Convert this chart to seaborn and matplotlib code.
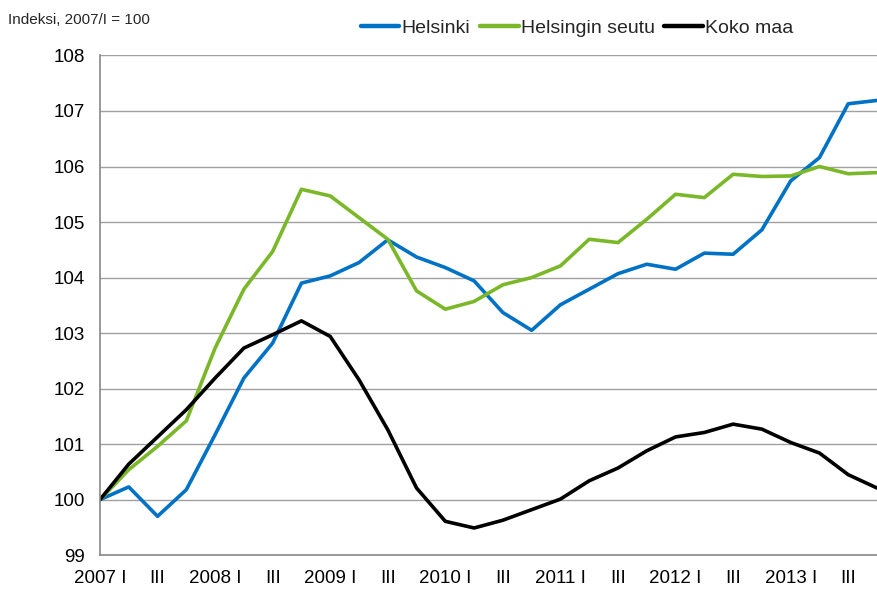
import numpy as np
import pandas as pd
import matplotlib
matplotlib.use("Agg")
import matplotlib.pyplot as plt
import seaborn as sns

# neljännekset 2007 I - 2013 IV
quarters = [f"{y} {q}" for y in range(2007, 2014) for q in ["I", "II", "III", "IV"]]
tick_labels = [f"{q.split()[0]} I" if q.endswith(" I") else ("III" if q.endswith(" III") else "")
               for q in quarters]

helsinki = [100.0, 100.23, 99.70, 100.18, 101.17, 102.19, 102.82, 103.90, 104.03, 104.27,
            104.68, 104.37, 104.18, 103.94, 103.37, 103.05, 103.51, 103.79, 104.07, 104.24,
            104.15, 104.44, 104.42, 104.86, 105.74, 106.16, 107.13, 107.19]
seutu = [100.0, 100.54, 100.96, 101.42, 102.73, 103.79, 104.47, 105.59, 105.47, 105.08,
         104.69, 103.76, 103.43, 103.57, 103.87, 104.00, 104.21, 104.69, 104.63, 105.05,
         105.50, 105.44, 105.86, 105.82, 105.83, 106.00, 105.87, 105.89]
koko_maa = [100.0, 100.64, 101.13, 101.62, 102.19, 102.73, 102.97, 103.22, 102.94, 102.16,
            101.26, 100.21, 99.61, 99.49, 99.63, 99.82, 100.01, 100.34, 100.57, 100.88,
            101.13, 101.21, 101.36, 101.27, 101.03, 100.84, 100.45, 100.21]

series = ["Helsinki", "Helsingin seutu", "Koko maa"]
colors = ["#0072C6", "#7AB829", "#000000"]

df = pd.concat([
    pd.DataFrame({"i": range(len(quarters)), "arvo": v, "alue": s})
    for s, v in zip(series, [helsinki, seutu, koko_maa])
])

sns.set_style("white")
plt.rcParams["font.family"] = ["Liberation Sans", "DejaVu Sans"]

fig = plt.figure(figsize=(8.77, 5.9), dpi=100)
ax = fig.add_axes([0.114, 0.059, 0.886, 0.847])

sns.lineplot(data=df, x="i", y="arvo", hue="alue", palette=colors, linewidth=2.6,
             ax=ax, legend=True)

ax.set_xlim(0, len(quarters) - 1)
ax.set_ylim(99, 108)
ax.set_yticks(range(99, 109))
ax.set_xticks(range(len(quarters)))
ax.set_xticklabels(tick_labels)
ax.tick_params(axis="both", labelsize=13.5, colors="#888888", labelcolor="black",
               length=5, width=1, direction="out")
ax.tick_params(axis="x", pad=6)
ax.tick_params(axis="y", pad=6)
ax.set_xlabel("")
ax.set_ylabel("")

ax.grid(axis="y", color="#a0a0a0", linewidth=1)
ax.set_axisbelow(True)
for s in ["top", "right"]:
    ax.spines[s].set_visible(False)
for s in ["left", "bottom"]:
    ax.spines[s].set_color("#888888")
    ax.spines[s].set_linewidth(1.2)

handles, labels = ax.get_legend_handles_labels()
ax.get_legend().remove()
leg = fig.legend(handles, labels, loc="center", bbox_to_anchor=(0.658, 0.953),
                 ncol=3, frameon=False, fontsize=14, handlelength=2.0, handletextpad=0.1,
                 columnspacing=0.5, borderaxespad=0)
for h in leg.get_lines():
    h.set_linewidth(3.2)

fig.text(0.009, 0.966, "Indeksi, 2007/I = 100", fontsize=11, ha="left", va="center")

fig.savefig("out.png", dpi=100)
